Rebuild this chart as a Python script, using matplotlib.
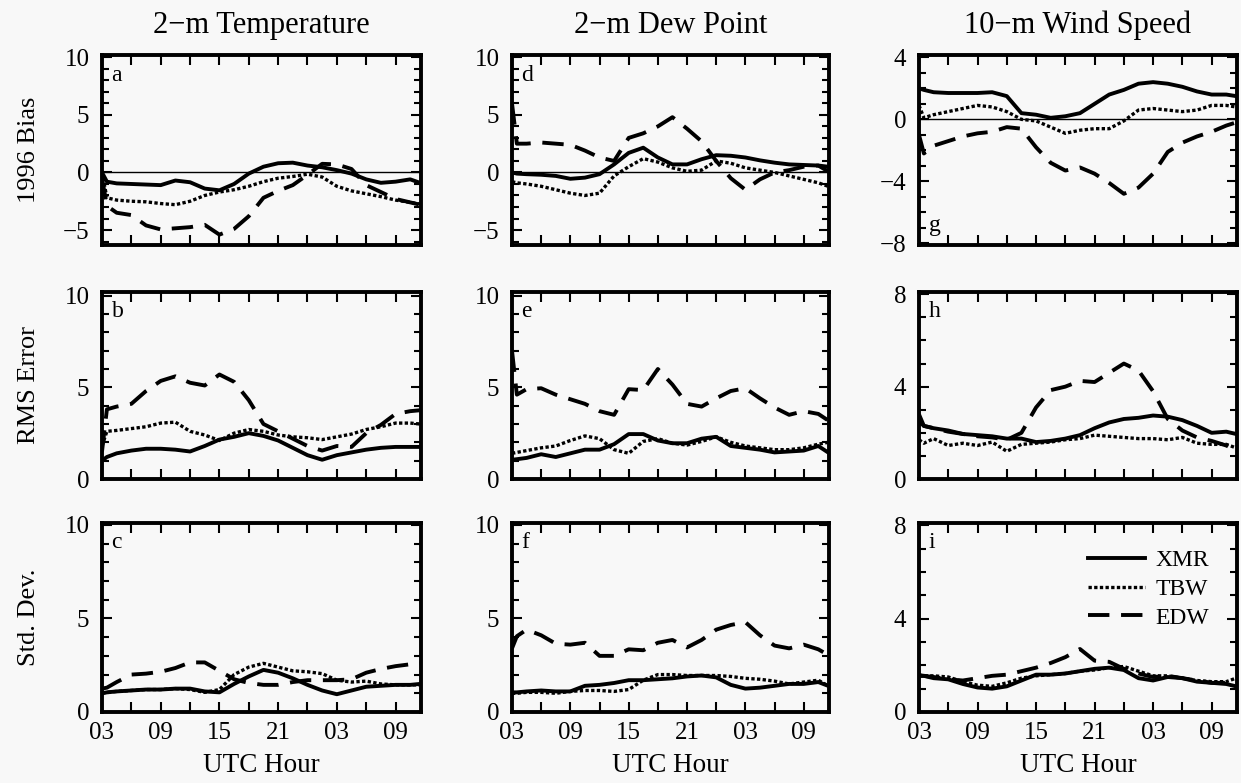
"""
Ошибки прогноза у поверхности: смещение, RMS и стандартное отклонение
"""
import matplotlib.pyplot as plt
from matplotlib.ticker import MultipleLocator

plt.rcParams['font.family'] = ['Liberation Serif', 'DejaVu Serif']
plt.rcParams['mathtext.fontset'] = 'stix'

# Часы от 03 UTC
hours = [0, 0.5, 1.5, 3, 4.5, 6, 7.5, 9, 10.5, 12, 13.5, 15, 16.5, 18,
         19.5, 21, 22.5, 24, 25.5, 27, 28.5, 30, 31.5, 32.5]
hour_ticks = [0, 3, 6, 9, 12, 15, 18, 21, 24, 27, 30]
hour_labels = ['03', '', '09', '', '15', '', '21', '', '03', '', '09']

col_titles = ['2\u2212m Temperature', '2\u2212m Dew Point', '10\u2212m Wind Speed']
row_titles = ['1996 Bias', 'RMS Error', 'Std. Dev.']
panel_letters = ['a', 'b', 'c', 'd', 'e', 'f', 'g', 'h', 'i']
series_names = ['XMR', 'TBW', 'EDW']

# --- 2-m температура ---
t_bias_xmr = [0, -0.8, -0.95, -1.0, -1.05, -1.1, -0.7, -0.85, -1.4, -1.55, -1.0, -0.1,
              0.5, 0.8, 0.85, 0.6, 0.45, 0.2, -0.1, -0.6, -0.9, -0.8, -0.6, -0.9]
t_bias_tbw = [0, -2.2, -2.4, -2.5, -2.55, -2.7, -2.8, -2.5, -2.0, -1.7, -1.5, -1.2,
              -0.8, -0.5, -0.35, -0.15, -0.4, -1.2, -1.6, -1.85, -2.1, -2.4, -2.6, -2.75]
t_bias_edw = [-0.5, -2.9, -3.5, -3.7, -4.6, -4.95, -4.85, -4.75, -4.55, -5.4, -4.9, -3.8,
              -2.2, -1.6, -1.1, -0.2, 0.75, 0.7, 0.3, -1.1, -1.7, -2.3, -2.6, -2.8]

t_rms_xmr = [1.0, 1.2, 1.4, 1.55, 1.65, 1.65, 1.6, 1.5, 1.8, 2.15, 2.3, 2.5,
             2.35, 2.1, 1.7, 1.3, 1.05, 1.3, 1.45, 1.6, 1.7, 1.75, 1.75, 1.75]
t_rms_tbw = [1.8, 2.6, 2.65, 2.75, 2.85, 3.05, 3.1, 2.6, 2.4, 2.1, 2.5, 2.7,
             2.6, 2.4, 2.3, 2.25, 2.15, 2.3, 2.45, 2.7, 2.85, 3.05, 3.05, 3.0]
t_rms_edw = [1.5, 3.8, 3.95, 4.1, 4.8, 5.35, 5.6, 5.25, 5.1, 5.7, 5.3, 4.3,
             3.0, 2.6, 2.2, 1.8, 1.55, 1.8, 1.75, 2.5, 2.95, 3.55, 3.7, 3.75]

t_std_xmr = [1.0, 1.05, 1.1, 1.15, 1.2, 1.2, 1.25, 1.25, 1.1, 1.05, 1.5, 1.9,
             2.25, 2.1, 1.8, 1.45, 1.15, 0.95, 1.15, 1.35, 1.4, 1.45, 1.45, 1.5]
t_std_tbw = [1.0, 1.05, 1.1, 1.15, 1.2, 1.2, 1.25, 1.2, 1.05, 1.2, 2.0, 2.4,
             2.6, 2.4, 2.2, 2.15, 2.05, 1.7, 1.6, 1.65, 1.5, 1.45, 1.45, 1.45]
t_std_edw = [1.25, 1.3, 1.6, 2.0, 2.05, 2.15, 2.35, 2.65, 2.65, 2.2, 1.75, 1.55,
             1.45, 1.45, 1.6, 1.7, 1.7, 1.7, 1.75, 2.1, 2.3, 2.45, 2.55, 2.6]

# --- 2-m точка росы ---
d_bias_xmr = [0, -0.1, -0.15, -0.2, -0.3, -0.55, -0.45, -0.15, 0.7, 1.7, 2.15, 1.3,
              0.7, 0.7, 1.15, 1.5, 1.45, 1.3, 1.05, 0.85, 0.7, 0.65, 0.6, 0.1]
d_bias_tbw = [-0.8, -0.9, -1.0, -1.2, -1.5, -1.8, -2.0, -1.8, -0.3, 0.5, 1.2, 0.9,
              0.4, 0.1, 0.2, 1.0, 0.8, 0.4, 0.2, 0.0, -0.3, -0.6, -0.9, -1.2]
d_bias_edw = [6.0, 2.5, 2.5, 2.6, 2.5, 2.4, 1.9, 1.3, 1.0, 3.0, 3.4, 4.0,
              4.8, 3.8, 2.7, 1.0, -0.5, -1.5, -0.6, 0.0, 0.2, 0.5, 0.6, 0.5]

d_rms_xmr = [1.05, 1.08, 1.15, 1.35, 1.2, 1.4, 1.6, 1.6, 1.9, 2.45, 2.45, 2.1,
             1.95, 1.95, 2.2, 2.3, 1.8, 1.7, 1.6, 1.45, 1.5, 1.55, 1.8, 1.45]
d_rms_tbw = [1.4, 1.45, 1.55, 1.7, 1.8, 2.1, 2.35, 2.2, 1.6, 1.4, 2.05, 2.2,
             1.95, 1.85, 2.05, 2.3, 2.0, 1.8, 1.7, 1.6, 1.6, 1.7, 1.9, 2.0]
d_rms_edw = [7.0, 4.6, 4.9, 4.95, 4.6, 4.35, 4.1, 3.7, 3.5, 4.9, 4.85, 6.0,
             5.15, 4.1, 3.95, 4.4, 4.8, 4.95, 4.4, 3.9, 3.5, 3.7, 3.55, 3.2]

d_std_xmr = [1.05, 1.05, 1.1, 1.15, 1.1, 1.1, 1.4, 1.45, 1.55, 1.7, 1.7, 1.75,
             1.8, 1.9, 1.95, 1.85, 1.45, 1.25, 1.3, 1.4, 1.5, 1.5, 1.6, 1.4]
d_std_tbw = [1.0, 1.0, 1.05, 1.05, 1.0, 1.1, 1.15, 1.15, 1.1, 1.2, 1.7, 2.0,
             2.0, 1.95, 1.95, 1.95, 1.9, 1.8, 1.75, 1.65, 1.5, 1.6, 1.7, 1.4]
d_std_edw = [3.4, 4.05, 4.4, 4.1, 3.65, 3.6, 3.7, 3.0, 3.0, 3.35, 3.3, 3.7,
             3.85, 3.45, 3.85, 4.4, 4.65, 4.8, 4.1, 3.55, 3.4, 3.6, 3.35, 3.05]

# --- 10-m скорость ветра ---
w_bias_xmr = [2.0, 1.9, 1.75, 1.7, 1.7, 1.7, 1.75, 1.5, 0.4, 0.3, 0.1, 0.2,
              0.4, 1.0, 1.6, 1.9, 2.3, 2.4, 2.3, 2.1, 1.8, 1.6, 1.6, 1.5]
w_bias_tbw = [0.9, 0.1, 0.3, 0.5, 0.7, 0.9, 0.8, 0.5, 0.0, -0.1, -0.5, -0.9,
              -0.7, -0.6, -0.6, -0.1, 0.6, 0.7, 0.6, 0.5, 0.6, 0.9, 0.9, 0.8]
w_bias_edw = [-1.0, -2.2, -1.7, -1.4, -1.1, -0.9, -0.8, -0.5, -0.6, -1.8, -2.8, -3.3,
              -3.1, -3.5, -4.1, -4.8, -4.4, -3.5, -2.1, -1.5, -1.1, -0.8, -0.4, -0.2]

w_rms_xmr = [2.5, 2.3, 2.2, 2.1, 1.95, 1.9, 1.85, 1.75, 1.75, 1.6, 1.65, 1.75,
             1.9, 2.2, 2.45, 2.6, 2.65, 2.75, 2.7, 2.55, 2.3, 2.0, 2.05, 1.95]
w_rms_tbw = [1.7, 1.55, 1.75, 1.45, 1.55, 1.45, 1.6, 1.2, 1.5, 1.55, 1.6, 1.7,
             1.75, 1.9, 1.85, 1.8, 1.75, 1.75, 1.7, 1.8, 1.55, 1.5, 1.5, 1.35]
w_rms_edw = [2.8, 2.3, 2.2, 2.05, 1.95, 1.85, 1.8, 1.7, 2.0, 3.1, 3.85, 4.0,
             4.25, 4.2, 4.6, 5.0, 4.7, 3.8, 2.6, 2.1, 1.8, 1.65, 1.45, 1.25]

w_std_xmr = [1.55, 1.55, 1.45, 1.4, 1.2, 1.05, 1.0, 1.1, 1.35, 1.6, 1.6, 1.65,
             1.75, 1.85, 1.9, 1.8, 1.45, 1.35, 1.5, 1.45, 1.3, 1.25, 1.2, 1.1]
w_std_tbw = [1.6, 1.55, 1.55, 1.5, 1.3, 1.15, 1.1, 1.25, 1.45, 1.55, 1.6, 1.65,
             1.75, 1.8, 1.9, 1.95, 1.75, 1.55, 1.55, 1.45, 1.35, 1.3, 1.3, 1.45]
w_std_edw = [1.55, 1.55, 1.5, 1.4, 1.35, 1.45, 1.55, 1.6, 1.75, 1.9, 2.1, 2.35,
             2.7, 2.2, 2.15, 1.85, 1.65, 1.5, 1.55, 1.45, 1.35, 1.25, 1.25, 1.2]

panels = [
    [(t_bias_xmr, t_bias_tbw, t_bias_edw), (t_rms_xmr, t_rms_tbw, t_rms_edw), (t_std_xmr, t_std_tbw, t_std_edw)],
    [(d_bias_xmr, d_bias_tbw, d_bias_edw), (d_rms_xmr, d_rms_tbw, d_rms_edw), (d_std_xmr, d_std_tbw, d_std_edw)],
    [(w_bias_xmr, w_bias_tbw, w_bias_edw), (w_rms_xmr, w_rms_tbw, w_rms_edw), (w_std_xmr, w_std_tbw, w_std_edw)],
]

ylims = [
    [(-6.3, 10.2), (0, 10.2), (0, 10.1)],
    [(-6.3, 10.2), (0, 10.2), (0, 10.1)],
    [(-8.1, 4.15), (0, 8.1), (0, 8.1)],
]
ymajor = [5, 5, 4]

# Стили линий
styles = [
    dict(color='black', linewidth=2.8, linestyle='-'),
    dict(color='black', linewidth=2.4, linestyle=(0, (1, 0.7))),
    dict(color='black', linewidth=2.8, linestyle=(0, (5.5, 3))),
]

W, H = 1241, 783
col_x = [(102, 421), (512, 829), (919, 1237)]
row_y = [(55, 245), (292, 479), (523, 712)]

bg = '#f8f8f8'
fig = plt.figure(figsize=(W / 100, H / 100), dpi=100, facecolor=bg)

for c in range(3):
    for r in range(3):
        x0, x1 = col_x[c]
        y0, y1 = row_y[r]
        ax = fig.add_axes([x0 / W, 1 - y1 / H, (x1 - x0) / W, (y1 - y0) / H])
        ax.set_facecolor(bg)

        for vals, st, name in zip(panels[c][r], styles, series_names):
            ax.plot(hours, vals, label=name, **st)

        if r == 0:
            ax.axhline(0, color='black', linewidth=1.0)
            ax.set_title(col_titles[c], fontsize=22, pad=16)

        ax.set_xlim(0, 32.6)
        ax.set_ylim(*ylims[c][r])
        ax.set_xticks(hour_ticks)
        ax.yaxis.set_major_locator(MultipleLocator(ymajor[c]))
        ax.yaxis.set_minor_locator(MultipleLocator(1))

        if r == 2:
            ax.set_xticklabels(hour_labels)
            ax.set_xlabel('UTC Hour', fontsize=19.5)
            ax.xaxis.set_label_coords(0.5, -0.215)
        else:
            ax.set_xticklabels([])

        ax.tick_params(axis='both', which='both', direction='in',
                       top=True, right=True, labelsize=18, width=1.5)
        ax.tick_params(axis='both', which='major', length=7)
        ax.tick_params(axis='y', which='minor', length=5)
        ax.tick_params(axis='y', which='major', pad=9)
        ax.tick_params(axis='x', which='major', pad=7)
        for sp in ax.spines.values():
            sp.set_linewidth(2.8)

        if c == 0:
            ax.set_ylabel(row_titles[r], fontsize=19)
            ax.yaxis.set_label_coords(-0.195, 0.5)

        letter = panel_letters[c * 3 + r]
        if letter == 'g':
            ax.text(0.03, 0.05, letter, transform=ax.transAxes, fontsize=17,
                    va='bottom', ha='left')
        else:
            ax.text(0.03, 0.95, letter, transform=ax.transAxes, fontsize=17,
                    va='top', ha='left')

        if c == 2 and r == 2:
            ax.legend(loc='upper right', bbox_to_anchor=(0.95, 0.92),
                      frameon=False, fontsize=17, handlelength=2.4,
                      handletextpad=0.45, labelspacing=0.3, borderpad=0)

fig.savefig('out.png', dpi=100, facecolor=bg)
